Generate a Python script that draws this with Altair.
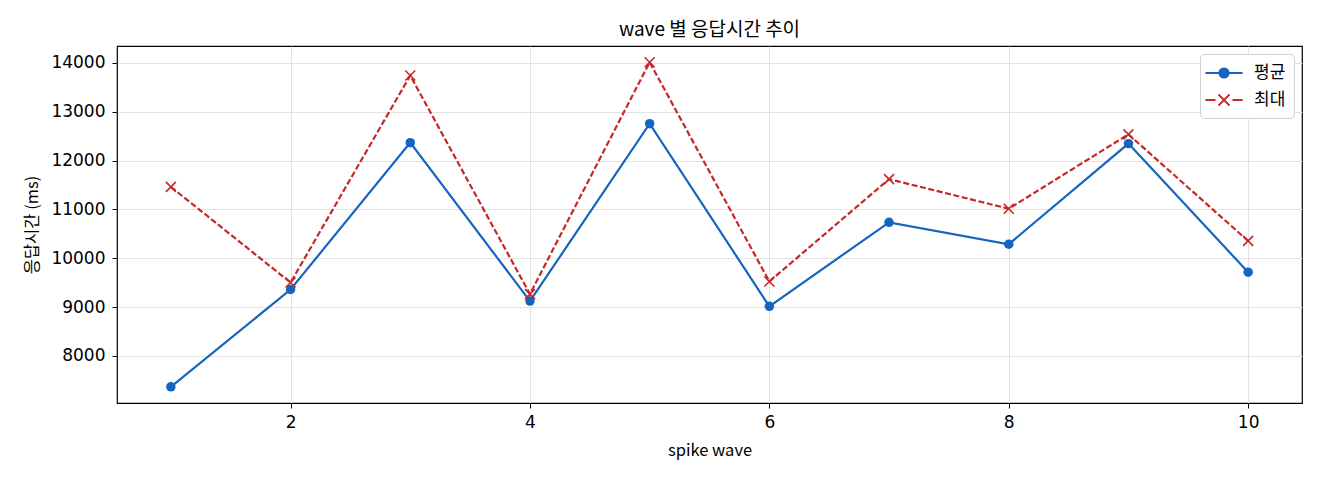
"""
wave 별 응답시간 추이 : average / max response time per spike wave
"""

import pandas as pd

import altair as alt

# values
waves = [1, 2, 3, 4, 5, 6, 7, 8, 9, 10]
avg_ms = [7367, 9359, 12367, 9122, 12755, 9014, 10735, 10286, 12347, 9714]
max_ms = [11461, 9502, 13742, 9265, 14014, 9524, 11619, 11014, 12537, 10354]
series_names = ["평균", "최대"]
x_ticks = [2, 4, 6, 8, 10]
y_ticks = [8000, 9000, 10000, 11000, 12000, 13000, 14000]

BLUE = "#1565c0"
RED = "#c62828"
KR_FONT = "Noto Sans CJK KR"
NUM_FONT = "DejaVu Sans"

# legend symbols: line + marker drawn as custom paths (unit = 10px at size 400)
avg_symbol = (
    "M-1.85,0H1.85"
    "M0.47,0A0.47,0.47 0 1,1 -0.47,0A0.47,0.47 0 1,1 0.47,0"
    "M0.32,0A0.32,0.32 0 1,1 -0.32,0A0.32,0.32 0 1,1 0.32,0"
    "M0.17,0A0.17,0.17 0 1,1 -0.17,0A0.17,0.17 0 1,1 0.17,0"
)
max_symbol = (
    "M-1.85,0H-0.85M0.85,0H1.85"
    "M-0.55,-0.55L0.55,0.55M-0.55,0.55L0.55,-0.55"
)
x_marker = "M-1,-1L1,1M-1,1L1,-1"

df = pd.concat([
    pd.DataFrame({"wave": waves, "ms": avg_ms, "series": series_names[0]}),
    pd.DataFrame({"wave": waves, "ms": max_ms, "series": series_names[1]}),
])

# matplotlib-like 5% margins
lo, hi = min(avg_ms + max_ms), max(avg_ms + max_ms)
pad = (hi - lo) * 0.05
xpad = (max(waves) - min(waves)) * 0.05

base = alt.Chart(df).encode(
    x=alt.X(
        "wave:Q",
        scale=alt.Scale(domain=[min(waves) - xpad, max(waves) + xpad], nice=False, zero=False),
        axis=alt.Axis(values=x_ticks, format="d", title="spike wave",
                      labelPadding=6, titlePadding=12),
    ),
    y=alt.Y(
        "ms:Q",
        scale=alt.Scale(domain=[lo - pad, hi + pad], nice=False, zero=False),
        axis=alt.Axis(values=y_ticks, format="d", title="응답시간 (ms)",
                      labelPadding=7, titlePadding=10),
    ),
)

avg_only = alt.datum.series == series_names[0]
max_only = alt.datum.series == series_names[1]

avg_line = base.transform_filter(avg_only).mark_line(color=BLUE, strokeWidth=2.2)
max_line = base.transform_filter(max_only).mark_line(
    color=RED, strokeWidth=2.2, strokeDash=[6, 2.6]
)
avg_points = base.transform_filter(avg_only).mark_circle(color=BLUE, size=90, opacity=1)
max_points = base.transform_filter(max_only).mark_point(
    shape=x_marker, color=RED, size=100, strokeWidth=1.6, filled=False, opacity=1
)

# an empty layer that only carries the legend
legend_layer = (
    base.transform_filter("datum.wave > 999")
    .mark_point(filled=False, size=400, strokeWidth=1.8, opacity=1)
    .encode(
        color=alt.Color(
            "series:N",
            scale=alt.Scale(domain=series_names, range=[BLUE, RED]),
            legend=alt.Legend(
                title=None,
                orient="top-right",
                offset=8,
                padding=8,
                symbolSize=400,
                symbolOffset=5,
                symbolStrokeWidth=1.8,
                labelOffset=19,
                rowPadding=7,
                labelFont=KR_FONT,
                labelFontSize=17,
                labelColor="black",
                fillColor="white",
                strokeColor="#d0d0d0",
                cornerRadius=4,
            ),
        ),
        shape=alt.Shape(
            "series:N",
            scale=alt.Scale(domain=series_names, range=[avg_symbol, max_symbol]),
            legend=alt.Legend(title=None),
        ),
    )
)

chart = (
    alt.layer(avg_line, max_line, avg_points, max_points, legend_layer)
    .properties(
        width=1185,
        height=357,
        autosize=alt.AutoSizeParams(type="none"),
        padding={"left": 109, "top": 38, "right": 10, "bottom": 69},
        title=alt.TitleParams(
            "wave 별 응답시간 추이",
            font=KR_FONT,
            fontSize=19,
            fontWeight="normal",
            color="black",
            anchor="middle",
            offset=6,
        ),
    )
    .configure_view(stroke="black", strokeWidth=1.2)
    .configure_axis(
        domain=False,
        grid=True,
        gridColor="#e3e3e3",
        gridWidth=1,
        tickColor="black",
        tickSize=5,
        tickWidth=1,
        labelFont=NUM_FONT,
        labelFontSize=17,
        labelColor="black",
        titleFont=KR_FONT,
        titleFontSize=16.5,
        titleFontWeight="normal",
        titleColor="black",
    )
)

chart.save("out.html", embed_options={"renderer": "svg", "actions": False})
